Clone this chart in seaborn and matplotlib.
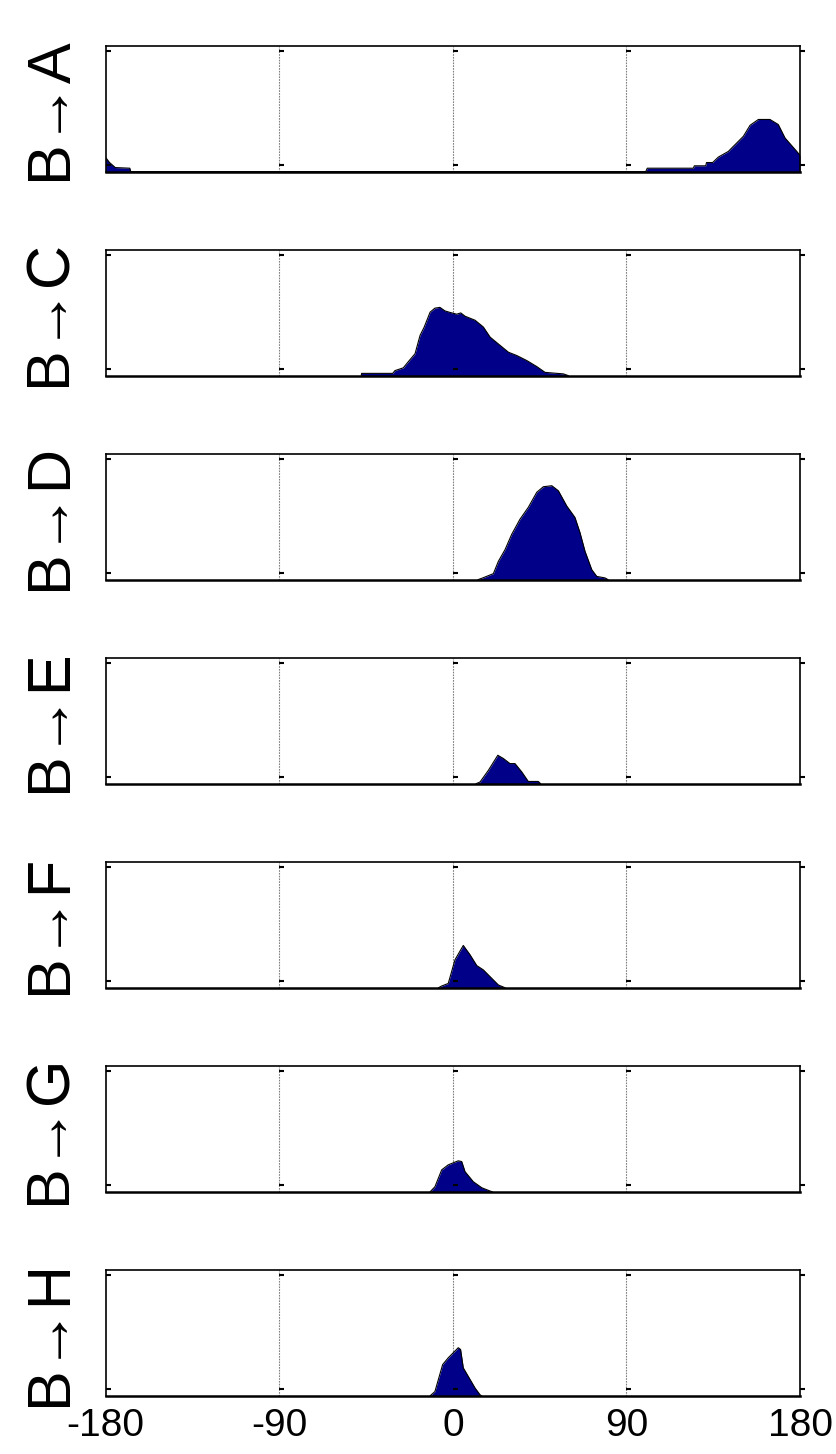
import numpy as np
import matplotlib
matplotlib.use("Agg")
import matplotlib.pyplot as plt
import seaborn as sns

# panel labels
labels = ["B\u2192A", "B\u2192C", "B\u2192D", "B\u2192E", "B\u2192F", "B\u2192G", "B\u2192H"]

# angle (deg) and relative frequency
x_a = [-180, -178, -175, -167.5, -167, 100, 100.8, 124.7, 125.2, 131.1, 131.5, 134.7, 137.6, 142.8,
       146.3, 150.6, 154.1, 158.4, 164.4, 168.7, 172.2, 178.3, 180]
y_a = [0.112, 0.072, 0.032, 0.027, 0, 0, 0.027, 0.027, 0.046, 0.046, 0.072, 0.072, 0.115, 0.16,
       0.214, 0.28, 0.368, 0.414, 0.414, 0.374, 0.267, 0.16, 0.128]

x_c = [-47.5, -47.3, -31.2, -30.0, -25.7, -22.6, -19.6, -17.0, -14.9, -11.8, -9.3, -6.7, -4.1, -1.5,
       2.0, 4.1, 6.3, 11.5, 15.8, 19.3, 24.5, 28.8, 33.1, 38.3, 43.5, 47.8, 57.3, 59.9]
y_c = [0, 0.018, 0.018, 0.04, 0.062, 0.12, 0.174, 0.32, 0.384, 0.504, 0.536, 0.542, 0.514, 0.502,
       0.488, 0.498, 0.472, 0.44, 0.386, 0.306, 0.24, 0.186, 0.16, 0.12, 0.072, 0.026, 0.014, 0]

x_d = [13, 15.5, 21.0, 23.6, 27.1, 30.5, 34.8, 39.1, 43.5, 46.9, 51.3, 54.7, 59.0, 63.3, 65.9, 68.5,
       72.0, 74.6, 78.9, 80.5]
y_d = [0, 0.014, 0.048, 0.146, 0.24, 0.36, 0.48, 0.574, 0.694, 0.738, 0.746, 0.706, 0.586, 0.494,
       0.374, 0.226, 0.08, 0.026, 0.014, 0]

x_e = [12.0, 14.1, 18.4, 23.3, 26.2, 29.6, 32.2, 35.7, 39.1, 44.3, 45.5]
y_e = [0, 0.014, 0.106, 0.226, 0.2, 0.16, 0.16, 0.094, 0.018, 0.018, 0]

x_f = [-7.5, -5.8, -2.4, 1.1, 5.4, 8.9, 12.4, 15.8, 19.3, 23.6, 27.1]
y_f = [0, 0.014, 0.034, 0.222, 0.336, 0.262, 0.176, 0.142, 0.088, 0.022, 0]

x_g = [-11.8, -9.3, -5.8, -2.4, 2.8, 4.6, 6.3, 10.6, 15.0, 19.3, 20.5]
y_g = [0, 0.04, 0.174, 0.214, 0.246, 0.24, 0.16, 0.08, 0.032, 0.006, 0]

x_h = [-11.8, -9.3, -5.3, -2.4, 2.8, 4.0, 5.4, 8.0, 11.5, 14.1, 15]
y_h = [0, 0.034, 0.248, 0.302, 0.382, 0.368, 0.222, 0.154, 0.062, 0.008, 0]

xs = [x_a, x_c, x_d, x_e, x_f, x_g, x_h]
ys = [y_a, y_c, y_d, y_e, y_f, y_g, y_h]

xticks = [-180, -90, 0, 90, 180]
fill_color = "#000088"

sns.set_style("white")
plt.rcParams["font.family"] = ["Liberation Sans", "DejaVu Sans"]
plt.rcParams["text.color"] = "black"
plt.rcParams["axes.labelcolor"] = "black"
plt.rcParams["xtick.color"] = "black"

fig, axes = plt.subplots(7, 1, figsize=(8.36, 14.54), dpi=100, sharex=True)
fig.subplots_adjust(left=0.1264, right=0.957, top=0.9686, bottom=0.04, hspace=0.62)

for ax, lab, x, y in zip(axes, labels, xs, ys):
    ax.fill_between(x, y, 0, color=fill_color, linewidth=0)
    sns.lineplot(x=x, y=y, ax=ax, color="black", linewidth=0.8, sort=False)
    ax.set_xlim(-180, 180)
    ax.set_ylim(0, 1)

    # dotted grid lines
    for g in xticks[1:-1]:
        ax.axvline(g, color="#808080", linestyle=(0, (1.5, 1)), linewidth=0.8, zorder=0)

    # small matlab-like tick marks at every grid position
    for g in xticks:
        for yy in (0.055, 0.96):
            ax.plot([g, g + 2.6], [yy, yy], color="black", linewidth=1.5, clip_on=False,
                    solid_capstyle="butt")

    for s in ax.spines.values():
        s.set_visible(True)
        s.set_color("black")
        s.set_linewidth(1.2)
    ax.spines["bottom"].set_linewidth(1.8)

    ax.set_yticks([])
    ax.set_xticks(xticks)
    ax.tick_params(axis="x", length=0, labelsize=28, pad=9)
    ax.set_ylabel(lab, fontsize=44, va="center")
    ax.yaxis.set_label_coords(-0.08, 0.5)

axes[-1].set_xticklabels([str(t) for t in xticks])

fig.savefig("out.png", dpi=100)
